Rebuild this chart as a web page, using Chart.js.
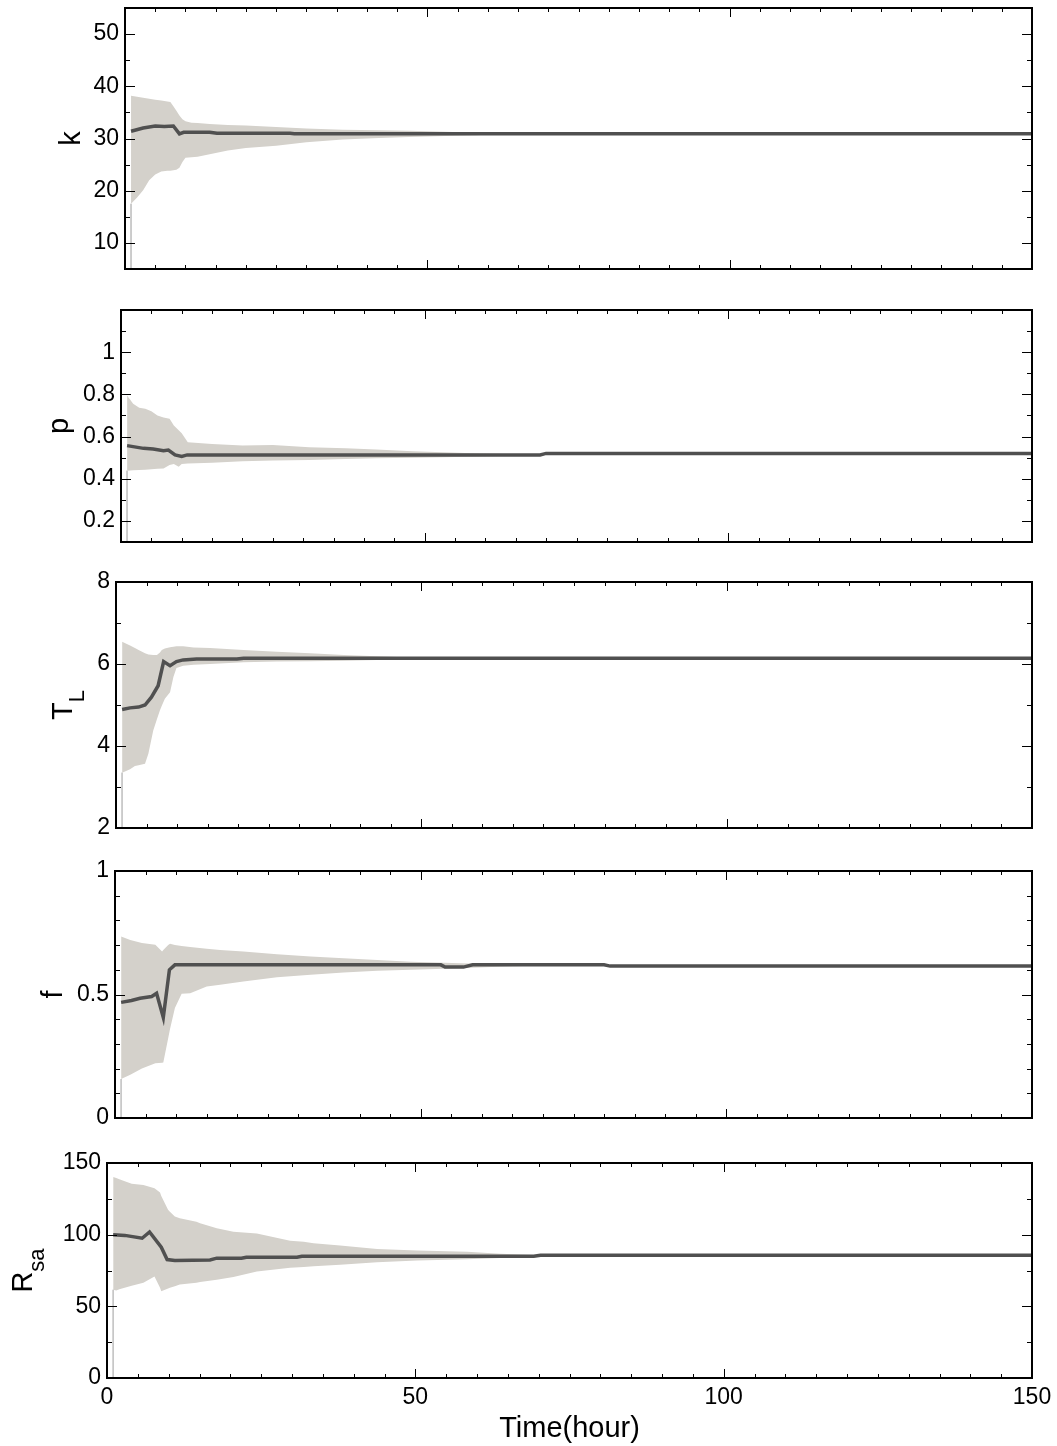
<!DOCTYPE html>
<html>
<head>
<meta charset="utf-8">
<title>Parameter convergence</title>
<script src="https://cdn.jsdelivr.net/npm/chart.js@4.4.1/dist/chart.umd.min.js"></script>
<style>
  body { margin: 0; background: #fff; }
  #wrap { position: relative; width: 1057px; height: 1446px; }
  .panel { position: absolute; left: 0; width: 1057px; }
  canvas { display: block; }
</style>
</head>
<body>
<div id="wrap">
  <div class="panel" style="top:0px"><canvas id="cK" width="1057" height="290"></canvas></div>
  <div class="panel" style="top:290px"><canvas id="cP" width="1057" height="270"></canvas></div>
  <div class="panel" style="top:560px"><canvas id="cT" width="1057" height="280"></canvas></div>
  <div class="panel" style="top:840px"><canvas id="cF" width="1057" height="290"></canvas></div>
  <div class="panel" style="top:1130px"><canvas id="cR" width="1057" height="316"></canvas></div>
</div>
<script>
const FONT = '"Liberation Sans", Arial, sans-serif';
const BAND = 'rgb(212,209,203)';
const LINE = '#505050';

const xTicks = [0, 50, 100, 150];

// k
const kHours = [1, 2, 3, 4, 5, 6, 7, 7.5, 8, 8.5, 9, 9.5, 10, 11, 12, 14, 17, 20, 25, 30, 36, 42, 47, 53, 58, 63];
const kUpper = [38.2, 38.0, 37.8, 37.6, 37.4, 37.3, 37.1, 37.0, 36.2, 35.3, 34.4, 33.7, 33.3, 33.0, 32.95, 32.8, 32.6, 32.5, 32.2, 31.9, 31.7, 31.6, 31.5, 31.3, 31.1, 30.9];
const kLower = [17.5, 18.7, 20.1, 22.0, 23.1, 23.7, 23.8, 23.8, 23.9, 24.0, 24.4, 25.5, 26.3, 26.4, 26.5, 27.0, 27.7, 28.2, 28.6, 29.3, 29.8, 30.1, 30.3, 30.5, 30.6, 30.9];
const kLineHours = [1, 3, 5, 6.5, 8, 9, 9.7, 14, 15.2, 27.3, 28, 150];
const kLine = [31.4, 32.0, 32.4, 32.3, 32.4, 30.9, 31.2, 31.2, 31.0, 31.0, 30.9, 30.9];
const kTicks = [10, 20, 30, 40, 50];

// p
const pHours = [1, 2, 3, 4, 5, 6, 7, 8, 8.7, 9.5, 10, 11, 15, 20, 25, 31, 37, 42, 48, 53, 59, 65];
const pUpper = [0.795, 0.756, 0.737, 0.732, 0.72, 0.70, 0.69, 0.684, 0.652, 0.63, 0.616, 0.573, 0.565, 0.557, 0.56, 0.549, 0.544, 0.538, 0.530, 0.525, 0.52, 0.516];
const pLower = [0.438, 0.44, 0.441, 0.443, 0.445, 0.447, 0.449, 0.465, 0.47, 0.457, 0.47, 0.472, 0.476, 0.483, 0.486, 0.489, 0.494, 0.497, 0.5, 0.502, 0.505, 0.51];
const pLineHours = [1, 3.7, 5.3, 7, 7.8, 8.9, 10, 10.9, 69, 70, 150];
const pLine = [0.557, 0.544, 0.541, 0.533, 0.536, 0.513, 0.506, 0.513, 0.513, 0.52, 0.52];
const pTicks = [0.2, 0.4, 0.6, 0.8, 1];

// T_L
const tHours = [1, 2.3, 3.1, 3.7, 4.75, 5.3, 6.1, 6.7, 7.2, 7.5, 8, 8.85, 9.4, 9.9, 11, 12.7, 15.4, 20.9, 26.3, 31.8, 37.3, 42.7, 48.2, 53.7, 58];
const tUpper = [6.54, 6.45, 6.39, 6.34, 6.26, 6.23, 6.22, 6.22, 6.28, 6.34, 6.38, 6.41, 6.42, 6.43, 6.43, 6.40, 6.39, 6.34, 6.30, 6.26, 6.22, 6.19, 6.16, 6.15, 6.14];
const tLower = [3.35, 3.43, 3.51, 3.53, 3.57, 3.81, 4.38, 4.65, 4.87, 4.98, 5.15, 5.31, 5.68, 5.9, 5.96, 5.98, 6.0, 6.04, 6.06, 6.07, 6.08, 6.1, 6.11, 6.12, 6.14];
const tLineHours = [1, 2.3, 3.7, 4.75, 5.8, 6.9, 7.8, 8.85, 9.9, 11, 13.2, 19.8, 20.9, 150];
const tLine = [4.89, 4.93, 4.95, 5.0, 5.19, 5.47, 6.06, 5.96, 6.06, 6.1, 6.12, 6.12, 6.14, 6.14];
const tTicks = [2, 4, 6, 8];

// f
const fHours = [1, 2.5, 4.4, 6.6, 7.7, 7.9, 8.7, 9, 9.8, 10.9, 12.3, 15, 17.2, 21, 26.5, 32, 37.4, 42.9, 48.4, 53.8, 59.3, 65, 72];
const fUpper = [0.735, 0.721, 0.708, 0.701, 0.674, 0.68, 0.70, 0.705, 0.70, 0.696, 0.692, 0.685, 0.68, 0.674, 0.663, 0.654, 0.647, 0.64, 0.633, 0.629, 0.625, 0.622, 0.619];
const fLower = [0.158, 0.175, 0.20, 0.222, 0.224, 0.225, 0.323, 0.36, 0.445, 0.503, 0.505, 0.532, 0.539, 0.553, 0.57, 0.58, 0.589, 0.596, 0.6, 0.604, 0.609, 0.614, 0.618];
const fLineHours = [1, 2.7, 4.1, 6, 6.8, 7.9, 8.9, 9.8, 53.3, 54, 57, 58.5, 80, 81, 150];
const fLine = [0.468, 0.476, 0.485, 0.492, 0.505, 0.407, 0.6, 0.62, 0.62, 0.611, 0.611, 0.62, 0.62, 0.615, 0.615];
const fTicks = [0, 0.5, 1];

// R_sa
const rHours = [1, 1.5, 2, 4, 5.9, 7.7, 8.6, 8.8, 9.9, 10.2, 11, 11.8, 14.5, 15.1, 17.8, 20.5, 24.3, 29.7, 31.9, 33.5, 37.8, 43.8, 50.3, 58.4, 63.8, 69.2, 72];
const rUpper = [140.3, 139.5, 138.7, 135.6, 134.7, 132.4, 129.4, 127, 117.4, 116, 112.7, 111.5, 109, 108, 104.4, 102.1, 100.9, 95.8, 95.1, 94, 92.4, 90, 88.9, 88, 86.6, 85.9, 85.6];
const rLower = [61.6, 61.1, 62, 64.4, 66.4, 70.8, 63, 60.6, 62.5, 63, 64, 65.3, 66.5, 66.9, 68.5, 70.4, 74.3, 76.9, 77.5, 78, 79, 80.8, 81.9, 82.9, 83.8, 84.3, 85.6];
const rLineHours = [1, 2.9, 5.7, 6.9, 8.8, 9.75, 11, 16.7, 17.8, 21.8, 22.6, 30.8, 31.6, 69.2, 70.3, 150];
const rLine = [100, 99.5, 97.5, 101.9, 91.2, 82.6, 81.9, 82.4, 83.6, 83.6, 84.3, 84.3, 85, 85, 85.6, 85.6];
const rTicks = [0, 50, 100, 150];

const toPts = (xs, ys) => xs.map((x, i) => ({ x: x, y: ys[i] }));
// "1" not "1.0", "0.5" stays as is
const fmt = v => String(+Number(v).toFixed(3));

// frame, inward tick marks and axis titles (with subscripts)
function framePlugin(p) {
  return {
    id: 'frame',
    afterDraw(chart) {
      const { ctx, chartArea: a, scales: { x, y } } = chart;
      ctx.save();
      ctx.strokeStyle = '#000';
      ctx.lineWidth = 1;
      ctx.beginPath();
      for (let h = 5; h < 150; h += 5) {
        const px = Math.round(x.getPixelForValue(h)) + 0.5;
        const len = h % 50 === 0 ? 9 : 4;
        ctx.moveTo(px, a.bottom); ctx.lineTo(px, a.bottom - len);
        ctx.moveTo(px, a.top); ctx.lineTo(px, a.top + len);
      }
      const n = Math.round((p.max - p.min) / p.minor);
      for (let i = 1; i < n; i++) {
        const v = p.min + i * p.minor;
        const major = p.ticks.some(t => Math.abs(t - v) < 1e-6);
        const py = Math.round(y.getPixelForValue(v)) + 0.5;
        const len = major ? 10 : 5;
        ctx.moveTo(a.left, py); ctx.lineTo(a.left + len, py);
        ctx.moveTo(a.right, py); ctx.lineTo(a.right - len, py);
      }
      ctx.stroke();
      ctx.lineWidth = 2;
      ctx.strokeRect(a.left, a.top, a.right - a.left, a.bottom - a.top);

      // y title, rotated
      ctx.fillStyle = '#000';
      ctx.textBaseline = 'alphabetic';
      ctx.translate(p.titleX, (a.top + a.bottom) / 2);
      ctx.rotate(-Math.PI / 2);
      ctx.font = '29px ' + FONT;
      const w1 = ctx.measureText(p.title).width;
      ctx.font = '22px ' + FONT;
      const w2 = p.sub ? ctx.measureText(p.sub).width : 0;
      const sx = -(w1 + w2) / 2;
      ctx.font = '29px ' + FONT;
      ctx.fillText(p.title, sx, 0);
      if (p.sub) {
        ctx.font = '22px ' + FONT;
        ctx.fillText(p.sub, sx + w1, 12);
      }
      ctx.setTransform(1, 0, 0, 1, 0, 0);

      if (p.xTitle) {
        ctx.font = '29px ' + FONT;
        ctx.textAlign = 'center';
        ctx.fillText(p.xTitle, (a.left + a.right) / 2, p.xTitleY);
      }
      ctx.restore();
    }
  };
}

function drawPanel(id, p) {
  const tickFont = { family: FONT, size: 23 };
  new Chart(document.getElementById(id), {
    type: 'line',
    data: {
      datasets: [
        { data: toPts(p.lineHours, p.line), borderColor: LINE, borderWidth: 3.5, pointRadius: 0, fill: false },
        { data: toPts(p.hours, p.upper), borderColor: 'rgba(0,0,0,0)', borderWidth: 0, pointRadius: 0, backgroundColor: BAND, fill: '+1' },
        { data: toPts(p.hours, p.lower), borderColor: 'rgba(0,0,0,0)', borderWidth: 0, pointRadius: 0, fill: false },
        { data: [{ x: p.hours[0], y: p.lower[0] }, { x: p.hours[0], y: p.min }], borderColor: '#c6c6c6', borderWidth: 1, pointRadius: 0, fill: false }
      ]
    },
    options: {
      responsive: false,
      animation: false,
      events: [],
      layout: { padding: { left: 0, right: 25, top: p.top, bottom: p.padBottom } },
      plugins: { legend: { display: false }, tooltip: { enabled: false } },
      scales: {
        x: {
          type: 'linear', min: 0, max: 150,
          grid: { display: false, drawTicks: false },
          border: { display: false },
          ticks: { display: !!p.xTitle, font: tickFont, color: '#000', padding: 6, maxRotation: 0, autoSkip: false, callback: fmt },
          afterBuildTicks: s => { s.ticks = xTicks.map(v => ({ value: v })); },
          afterFit: s => { s.height = p.xAxisHeight; s.paddingLeft = 0; s.paddingRight = 0; }
        },
        y: {
          type: 'linear', min: p.min, max: p.max,
          grid: { display: false, drawTicks: false },
          border: { display: false },
          ticks: { font: tickFont, color: '#000', padding: 6, callback: fmt },
          afterBuildTicks: s => { s.ticks = p.ticks.map(v => ({ value: v })); },
          afterFit: s => { s.width = p.left; s.paddingTop = 0; s.paddingBottom = 0; }
        }
      }
    },
    plugins: [framePlugin(p)]
  });
}

drawPanel('cK', { hours: kHours, upper: kUpper, lower: kLower, lineHours: kLineHours, line: kLine,
  ticks: kTicks, min: 5, max: 55, minor: 5, left: 125, top: 8, padBottom: 21, xAxisHeight: 0,
  title: 'k', titleX: 80 });
drawPanel('cP', { hours: pHours, upper: pUpper, lower: pLower, lineHours: pLineHours, line: pLine,
  ticks: pTicks, min: 0.1, max: 1.2, minor: 0.1, left: 121, top: 20, padBottom: 18, xAxisHeight: 0,
  title: 'p', titleX: 68 });
drawPanel('cT', { hours: tHours, upper: tUpper, lower: tLower, lineHours: tLineHours, line: tLine,
  ticks: tTicks, min: 2, max: 8, minor: 1, left: 116, top: 22, padBottom: 12, xAxisHeight: 0,
  title: 'T', sub: 'L', titleX: 72 });
drawPanel('cF', { hours: fHours, upper: fUpper, lower: fLower, lineHours: fLineHours, line: fLine,
  ticks: fTicks, min: 0, max: 1, minor: 0.1, left: 115, top: 31, padBottom: 12, xAxisHeight: 0,
  title: 'f', titleX: 62 });
drawPanel('cR', { hours: rHours, upper: rUpper, lower: rLower, lineHours: rLineHours, line: rLine,
  ticks: rTicks, min: 0, max: 150, minor: 25, left: 107, top: 33, padBottom: 28, xAxisHeight: 40,
  title: 'R', sub: 'sa', titleX: 32, xTitle: 'Time(hour)', xTitleY: 307 });
</script>
</body>
</html>
